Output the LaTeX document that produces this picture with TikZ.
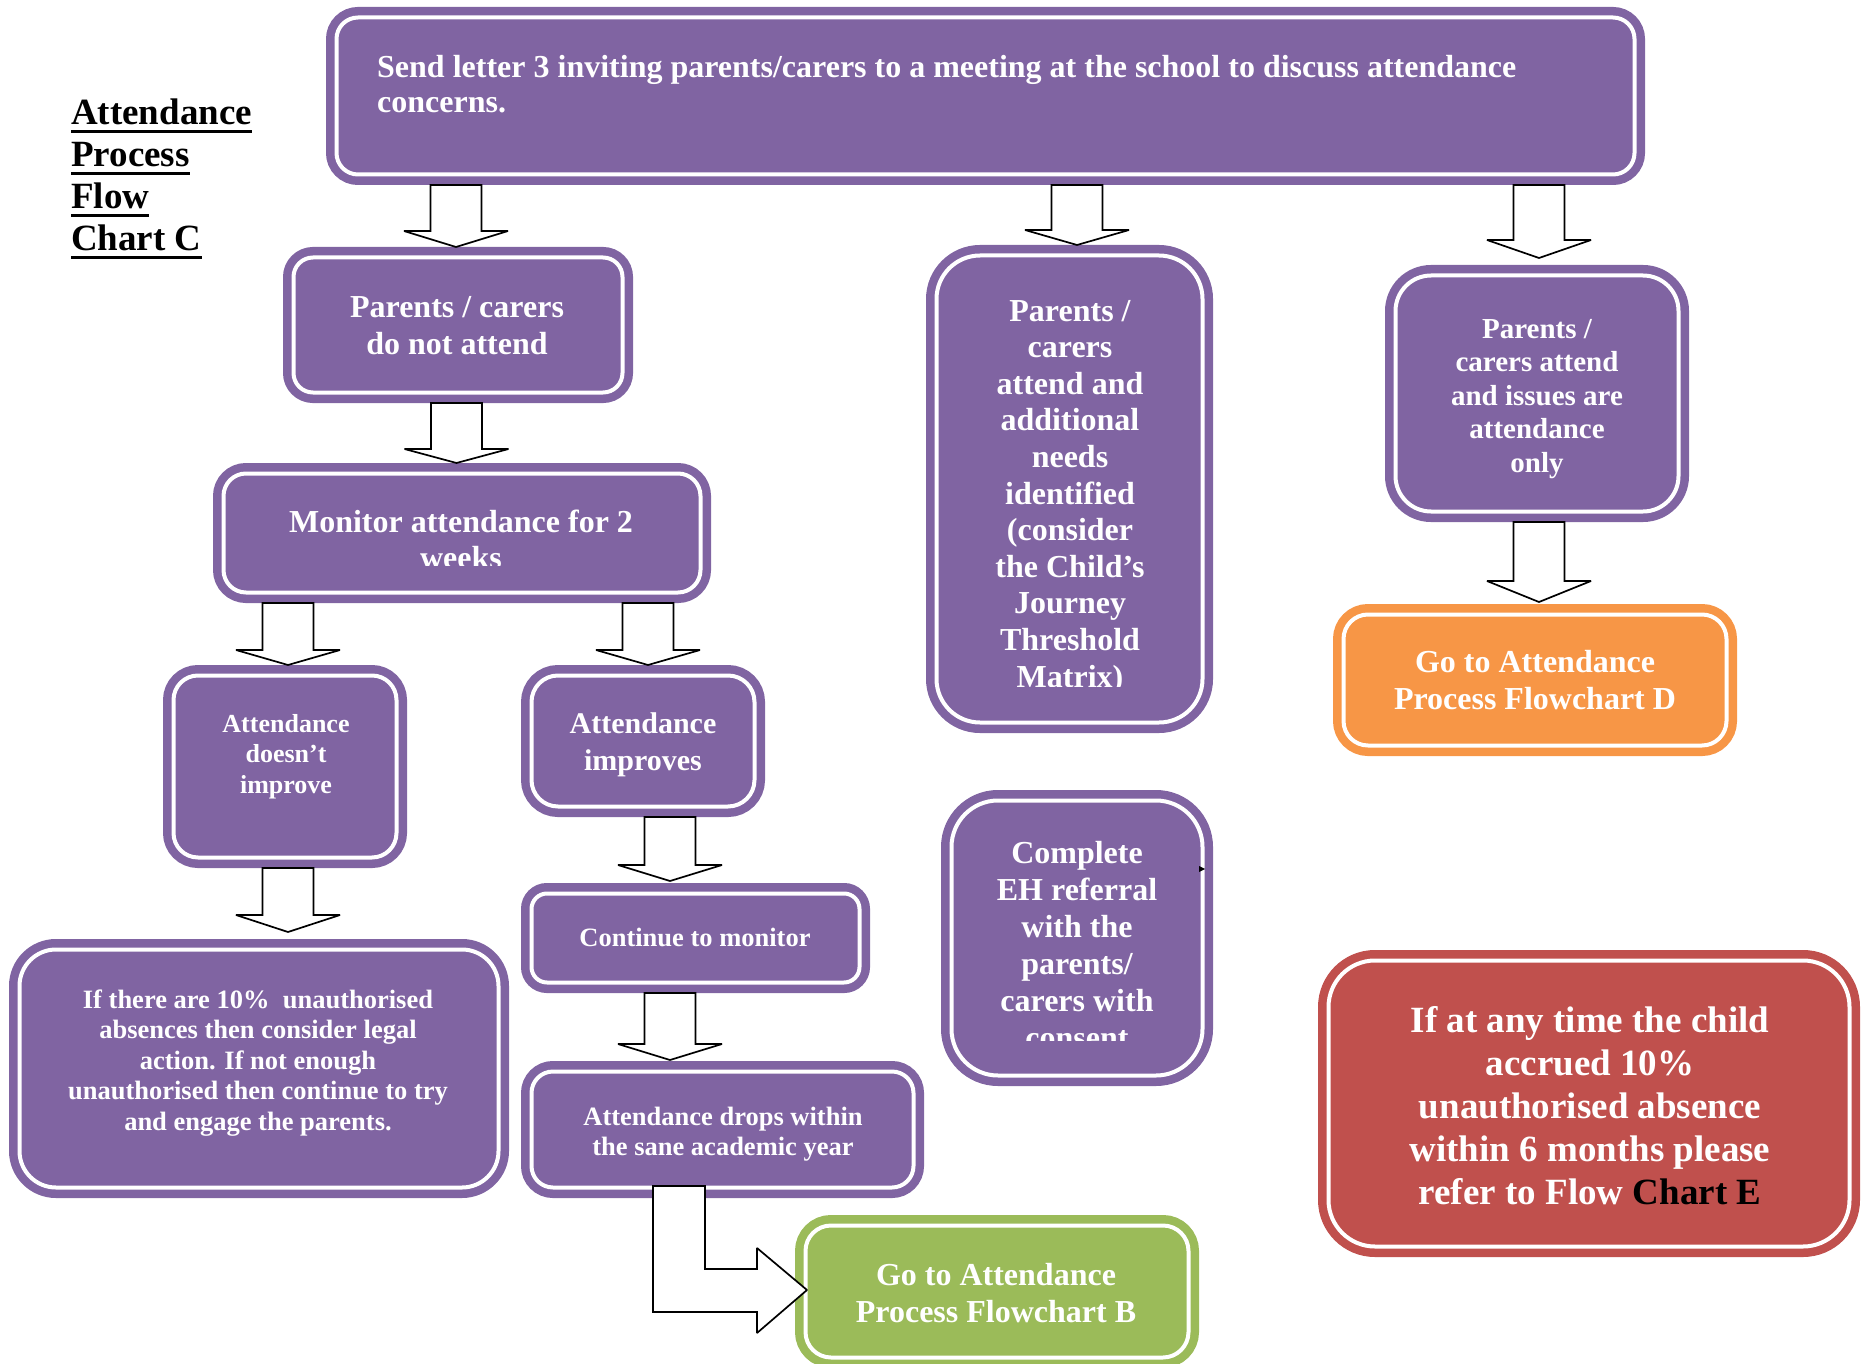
\documentclass[tikz,border=0pt]{standalone}
\usepackage{fontspec}
\setmainfont{Liberation Serif}
\usetikzlibrary{calc}
\definecolor{purp}{HTML}{8064A2}
\definecolor{leaf}{HTML}{9BBB59}
\definecolor{amber}{HTML}{F79646}
\definecolor{brick}{HTML}{C0504D}
\newcommand\fsz[2]{\fontsize{#1pt}{#2pt}\selectfont\bfseries}
\newcommand\ulin[1]{\setbox0=\hbox{#1}\rlap{\rule[-8pt]{\wd0}{3pt}}\box0}
% downward block arrow: x, source node, target node, head length, tip lift
\newcommand\vblock[5]{%
  \path (#1,0 |- #2.south) coordinate (bs) ($(#1,0 |- #3.north)+(0,-#5)$) coordinate (be);
  \draw[blockarrow] ($(bs)+(-25.5,0)$) -- ($(bs)+(25.5,0)$) -- ($(be)+(25.5,-#4)$)
    -- ($(be)+(52,-#4)$) -- (be) -- ($(be)+(-52,-#4)$) -- ($(be)+(-25.5,-#4)$) -- cycle;}
\begin{document}
\begin{tikzpicture}[x=1pt,y=-1pt,
  fbox/.style={rectangle, draw=#1, fill=#1, double=white, double distance=4pt,
    line width=8.5pt, outer sep=10.5pt, inner sep=0pt},
  txt/.style={text=white, inner sep=0pt, align=center, anchor=base},
  blockarrow/.style={draw=black, fill=white, line width=1.7pt, line join=miter, miter limit=1.5}]
\useasboundingbox (0,0) rectangle (1863,1364);

% title (node anchored on the baseline of its last line)
\node[inner sep=0pt, align=left, anchor=base west, font=\fsz{37}{42}] (title) at (71,251)
  {\ulin{Attendance}\\\ulin{Process}\\\ulin{Flow}\\\ulin{Chart C}};

% boxes
\node[fbox=purp, minimum width=1298pt, minimum height=157pt, rounded corners=21.5pt] (A) at (985.5,96) {};
\node[fbox=purp, minimum width=329pt, minimum height=135pt, rounded corners=19.5pt] (B) at (458,325) {};
\node[fbox=purp, minimum width=477pt, minimum height=119pt, rounded corners=22.5pt] (C) at (462,533) {};
\node[fbox=purp, minimum width=223pt, minimum height=182pt, rounded corners=24.5pt] (D) at (285,766.5) {};
\node[fbox=purp, minimum width=223pt, minimum height=131pt, rounded corners=26.5pt] (E) at (643,741) {};
\node[fbox=purp, minimum width=328pt, minimum height=89pt, rounded corners=15.5pt] (F) at (695.5,938) {};
\node[fbox=purp, minimum width=382pt, minimum height=116pt, rounded corners=21.5pt] (G) at (722.5,1129.5) {};
\node[fbox=leaf, minimum width=383pt, minimum height=132pt, rounded corners=25.5pt] (H) at (997,1291.5) {};
\node[fbox=purp, minimum width=479pt, minimum height=238pt, rounded corners=36.5pt] (I) at (259,1068.5) {};
\node[fbox=purp, minimum width=266pt, minimum height=467pt, rounded corners=43.5pt] (J) at (1069.5,489) {};
\node[fbox=purp, minimum width=283pt, minimum height=236pt, rounded corners=35.5pt] (K) at (1537,393.5) {};
\node[fbox=amber, minimum width=383pt, minimum height=131pt, rounded corners=24.5pt] (L) at (1535,680) {};
\node[fbox=purp, minimum width=251pt, minimum height=275pt, rounded corners=46.5pt] (M) at (1077,938) {};
\node[fbox=brick, minimum width=521pt, minimum height=286pt, rounded corners=46.5pt] (N) at (1589,1103.5) {};

% box texts (each anchored on the baseline of its last line)
\node[txt, align=left, anchor=base west, font=\fsz{32}{35}] (At) at (377,113)
  {Send letter 3 inviting parents/carers to a meeting at the school to discuss attendance\\concerns.};
\node[txt, font=\fsz{32}{37}] (Bt) at (457,354) {Parents / carers\\do not attend};
\begin{scope}
  \clip (213,463) rectangle (711,565);
  \node[txt, font=\fsz{32}{36}] (Ct) at (461,568) {Monitor attendance for 2\\weeks};
\end{scope}
\node[txt, font=\fsz{26}{30.5}] (Dt) at (286,793) {Attendance\\doesn’t\\improve};
\node[txt, font=\fsz{30}{37}] (Et) at (643,770) {Attendance\\improves};
\node[txt, font=\fsz{26.5}{30}] (Ft) at (695,946) {Continue to monitor};
\node[txt, font=\fsz{26.5}{30}] (Gt) at (723,1155) {Attendance drops within\\the sane academic year};
\node[txt, font=\fsz{32}{37}] (Ht) at (996,1322) {Go to Attendance\\Process Flowchart B};
\node[txt, font=\fsz{26.5}{30.5}] (It) at (258,1130)
  {If there are 10\%\ \ unauthorised\\absences then consider legal\\action. If not enough\\unauthorised then continue to try\\and engage the parents.};
\begin{scope}
  \clip (926,245) rectangle (1213,686);
  \node[txt, font=\fsz{32}{36.6}] (Jt) at (1070,687)
    {Parents /\\carers\\attend and\\additional\\needs\\identified\\(consider\\the Child’s\\Journey\\Threshold\\Matrix)};
\end{scope}
\node[txt, font=\fsz{29}{33.5}] (Kt) at (1537,472) {Parents /\\carers attend\\and issues are\\attendance\\only};
\node[txt, font=\fsz{32}{37}] (Lt) at (1535,709) {Go to Attendance\\Process Flowchart D};
\begin{scope}
  \clip (941,790) rectangle (1213,1040);
  \node[txt, font=\fsz{32}{37}] (Mt) at (1077,1048)
    {Complete\\EH referral\\with the\\parents/\\carers with\\consent};
\end{scope}
\node[txt, font=\fsz{37}{43}] (Nt) at (1590,1204)
  {If at any time the child\\accrued 10\%\\unauthorised absence\\within 6 months please\\refer to Flow {\color{black}Chart E}};

% block arrows
\vblock{456}{A}{B}{16}{0}
\vblock{456.5}{B}{C}{14}{0}
\vblock{288}{C}{D}{15}{0}
\vblock{648}{C}{E}{15}{0}
\vblock{288}{D}{I}{17}{7}
\vblock{670}{E}{F}{16}{2}
\vblock{670}{F}{G}{16}{1}
\vblock{1077}{A}{J}{15}{0}
\vblock{1539}{A}{K}{18}{7}
\vblock{1539}{K}{L}{21}{2}

% elbow arrow into the green box
\path ($(653,0 |- G.south)+(0,-12)$) coordinate (e1) ($(H.west)+(12,-1.5)$) coordinate (e2);
\draw[blockarrow] (e1) -- ++(52,0) -- ($(e2)+(-102,-21)$) -- ($(e2)+(-50,-21)$)
  -- ($(e2)+(-50,-42)$) -- (e2) -- ($(e2)+(-50,43)$) -- ($(e2)+(-50,22)$)
  -- ($(e2)+(-154,22)$) -- cycle;

% small stray mark beside the referral box
\fill[black] (1199,866) -- (1205,869) -- (1199,872) -- cycle;
\end{tikzpicture}
\end{document}
